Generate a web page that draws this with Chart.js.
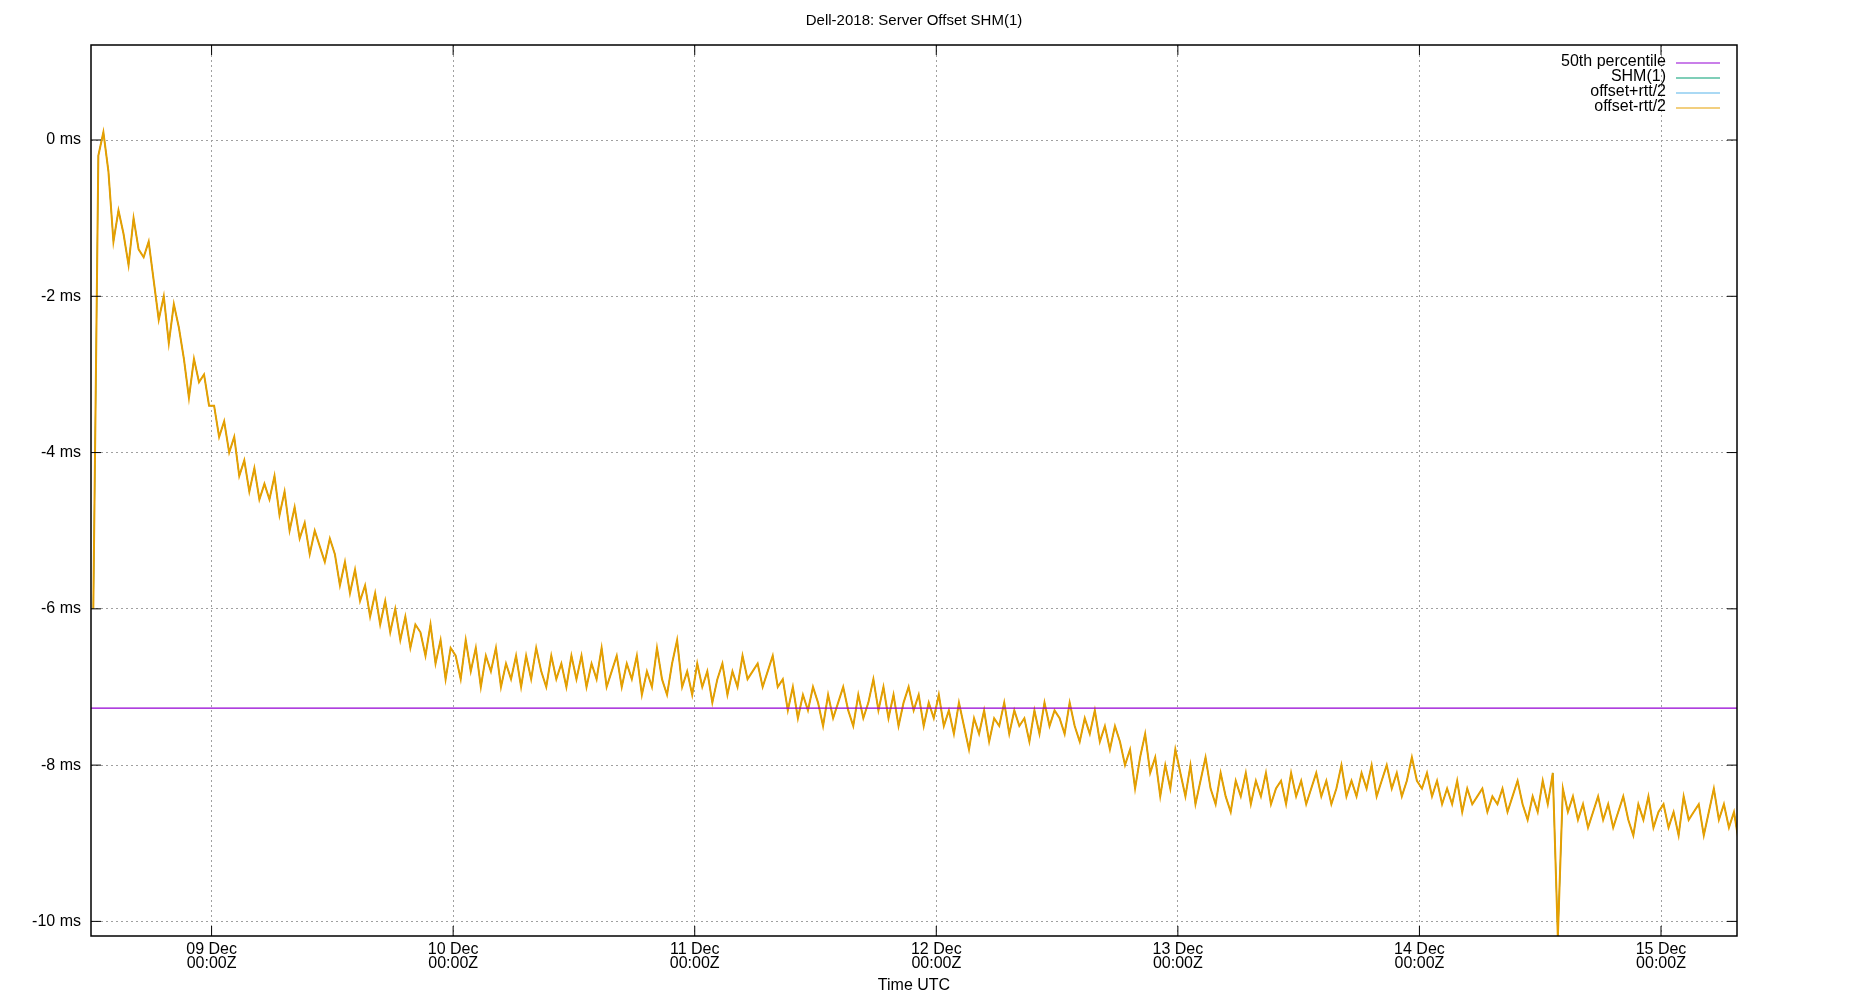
<!DOCTYPE html>
<html>
<head>
<meta charset="utf-8">
<script src="https://cdn.jsdelivr.net/npm/chart.js@4"></script>
<style>
  html, body { margin: 0; padding: 0; background: #fff; }
  #wrap { width: 1850px; height: 1000px; }
</style>
</head>
<body>
<div id="wrap"><canvas id="chart"></canvas></div>
<script>
// half-hour samples starting 08 Dec 12:15Z (x in hours since 08 Dec 00:00Z)
const startHour = 12.25;
const stepHour = 0.5;
const offsetMs = [
    -6.0, -0.2, 0.1, -0.4, -1.3, -0.9, -1.2, -1.6, -1.0, -1.4, -1.5, -1.3,
    -1.8, -2.3, -2.0, -2.6, -2.1, -2.4, -2.8, -3.3, -2.8, -3.1, -3.0, -3.4,
    -3.4, -3.8, -3.6, -4.0, -3.8, -4.3, -4.1, -4.5, -4.2, -4.6, -4.4, -4.6,
    -4.3, -4.8, -4.5, -5.0, -4.7, -5.1, -4.9, -5.3, -5.0, -5.2, -5.4, -5.1,
    -5.3, -5.7, -5.4, -5.8, -5.5, -5.9, -5.7, -6.1, -5.8, -6.2, -5.9, -6.3,
    -6.0, -6.4, -6.1, -6.5, -6.2, -6.3, -6.6, -6.2, -6.7, -6.4, -6.9, -6.5,
    -6.6, -6.9, -6.4, -6.8, -6.5, -7.0, -6.6, -6.8, -6.5, -7.0, -6.7, -6.9,
    -6.6, -7.0, -6.6, -6.9, -6.5, -6.8, -7.0, -6.6, -6.9, -6.7, -7.0, -6.6,
    -6.9, -6.6, -7.0, -6.7, -6.9, -6.5, -7.0, -6.8, -6.6, -7.0, -6.7, -6.9,
    -6.6, -7.1, -6.8, -7.0, -6.5, -6.9, -7.1, -6.7, -6.4, -7.0, -6.8, -7.1,
    -6.7, -7.0, -6.8, -7.2, -6.9, -6.7, -7.1, -6.8, -7.0, -6.6, -6.9, -6.8,
    -6.7, -7.0, -6.8, -6.6, -7.0, -6.9, -7.3, -7.0, -7.4, -7.1, -7.3, -7.0,
    -7.2, -7.5, -7.1, -7.4, -7.2, -7.0, -7.3, -7.5, -7.1, -7.4, -7.2, -6.9,
    -7.3, -7.0, -7.4, -7.1, -7.5, -7.2, -7.0, -7.3, -7.1, -7.5, -7.2, -7.4,
    -7.1, -7.5, -7.3, -7.6, -7.2, -7.5, -7.8, -7.4, -7.6, -7.3, -7.7, -7.4,
    -7.5, -7.2, -7.6, -7.3, -7.5, -7.4, -7.7, -7.3, -7.6, -7.2, -7.5, -7.3,
    -7.4, -7.6, -7.2, -7.5, -7.7, -7.4, -7.6, -7.3, -7.7, -7.5, -7.8, -7.5,
    -7.7, -8.0, -7.8, -8.3, -7.9, -7.6, -8.1, -7.9, -8.4, -8.0, -8.3, -7.8,
    -8.1, -8.4, -8.0, -8.5, -8.2, -7.9, -8.3, -8.5, -8.1, -8.4, -8.6, -8.2,
    -8.4, -8.1, -8.5, -8.2, -8.4, -8.1, -8.5, -8.3, -8.2, -8.5, -8.1, -8.4,
    -8.2, -8.5, -8.3, -8.1, -8.4, -8.2, -8.5, -8.3, -8.0, -8.4, -8.2, -8.4,
    -8.1, -8.3, -8.0, -8.4, -8.2, -8.0, -8.3, -8.1, -8.4, -8.2, -7.9, -8.2,
    -8.3, -8.1, -8.4, -8.2, -8.5, -8.3, -8.5, -8.2, -8.6, -8.3, -8.5, -8.4,
    -8.3, -8.6, -8.4, -8.5, -8.3, -8.6, -8.4, -8.2, -8.5, -8.7, -8.4, -8.6,
    -8.2, -8.5, -8.1, -10.2, -8.3, -8.6, -8.4, -8.7, -8.5, -8.8, -8.6, -8.4,
    -8.7, -8.5, -8.8, -8.6, -8.4, -8.7, -8.9, -8.5, -8.7, -8.4, -8.8, -8.6,
    -8.5, -8.8, -8.6, -8.9, -8.4, -8.7, -8.6, -8.5, -8.9, -8.6, -8.3, -8.7,
    -8.5, -8.8, -8.6, -9.0
];
const medianMs = -7.27;
const dayTicks = [24, 48, 72, 96, 120, 144, 168];
const dayLabels = ["09 Dec", "10 Dec", "11 Dec", "12 Dec", "13 Dec", "14 Dec", "15 Dec"];
const msTicks = [-10, -8, -6, -4, -2, 0];
const seriesNames = ["50th percentile", "SHM(1)", "offset+rtt/2", "offset-rtt/2"];
const seriesColors = ["#9400d3", "#009e73", "#56b4e9", "#e69f00"];

const xMin = 12.02, xMax = 175.55;
const points = offsetMs.map((v, i) => ({ x: startHour + i * stepHour, y: v }));

const FONT = "'Liberation Sans', Arial, sans-serif";

const framePlugin = {
    id: "frame",
    afterDraw(chart) {
        const ctx = chart.ctx;
        const a = chart.chartArea;
        ctx.save();
        ctx.strokeStyle = "#000";
        ctx.lineWidth = 1.5;
        ctx.strokeRect(a.left, a.top, a.right - a.left, a.bottom - a.top);
        // small inward tick marks like gnuplot
        ctx.lineWidth = 1;
        dayTicks.forEach(v => {
            const px = chart.scales.x.getPixelForValue(v);
            ctx.beginPath();
            ctx.moveTo(px, a.bottom); ctx.lineTo(px, a.bottom - 10);
            ctx.moveTo(px, a.top); ctx.lineTo(px, a.top + 10);
            ctx.stroke();
        });
        msTicks.forEach(v => {
            const py = chart.scales.y.getPixelForValue(v);
            ctx.beginPath();
            ctx.moveTo(a.left, py); ctx.lineTo(a.left + 10, py);
            ctx.moveTo(a.right, py); ctx.lineTo(a.right - 10, py);
            ctx.stroke();
        });
        // title and axis label
        ctx.fillStyle = "#000";
        ctx.font = "15px " + FONT;
        ctx.textAlign = "center";
        ctx.textBaseline = "middle";
        ctx.fillText("Dell-2018: Server Offset SHM(1)", (a.left + a.right) / 2, 21);
        ctx.font = "16px " + FONT;
        ctx.fillText("Time UTC", (a.left + a.right) / 2, 986);
        // legend
        ctx.font = "16px " + FONT;
        ctx.textAlign = "right";
        const rows = [62, 77, 92, 107];
        seriesNames.forEach((n, i) => {
            ctx.fillStyle = "#000";
            ctx.fillText(n, 1666, rows[i]);
            ctx.strokeStyle = seriesColors[i];
            ctx.lineWidth = 1.2;
            ctx.beginPath();
            ctx.moveTo(1676, rows[i] + 1);
            ctx.lineTo(1720, rows[i] + 1);
            ctx.stroke();
        });
        ctx.restore();
    }
};

new Chart(document.getElementById("chart"), {
    type: "line",
    data: {
        datasets: [
            { label: seriesNames[0], data: [{ x: xMin, y: medianMs }, { x: xMax, y: medianMs }],
              borderColor: seriesColors[0], borderWidth: 1.3, pointRadius: 0, order: 0 },
            { label: seriesNames[1], data: points, borderColor: seriesColors[1],
              borderWidth: 1, pointRadius: 0, order: 3 },
            { label: seriesNames[2], data: points, borderColor: seriesColors[2],
              borderWidth: 1, pointRadius: 0, order: 2 },
            { label: seriesNames[3], data: points, borderColor: seriesColors[3],
              borderWidth: 2, pointRadius: 0, order: 1 }
        ]
    },
    options: {
        responsive: true,
        maintainAspectRatio: false,
        animation: false,
        layout: { padding: { top: 45, right: 113, left: 0, bottom: 0 } },
        plugins: { legend: { display: false }, tooltip: { enabled: false } },
        scales: {
            x: {
                type: "linear", min: xMin, max: xMax,
                afterBuildTicks: (s) => { s.ticks = dayTicks.map(v => ({ value: v })); },
                afterFit: (s) => { s.height = 64; },
                grid: { color: "#a0a0a0", drawTicks: false },
                border: { display: false, dash: [2, 3] },
                ticks: {
                    color: "#000", font: { family: FONT, size: 16, lineHeight: 0.9 }, padding: 6, maxRotation: 0,
                    callback: (v) => [dayLabels[dayTicks.indexOf(v)], "00:00Z"]
                }
            },
            y: {
                min: -10.187, max: 1.216,
                afterBuildTicks: (s) => { s.ticks = msTicks.map(v => ({ value: v })); },
                afterFit: (s) => { s.width = 91; },
                grid: { color: "#a0a0a0", drawTicks: false },
                border: { display: false, dash: [2, 3] },
                ticks: {
                    color: "#000", font: { family: FONT, size: 16 }, padding: 10,
                    callback: (v) => v + " ms"
                }
            }
        }
    },
    plugins: [framePlugin]
});
</script>
</body>
</html>
